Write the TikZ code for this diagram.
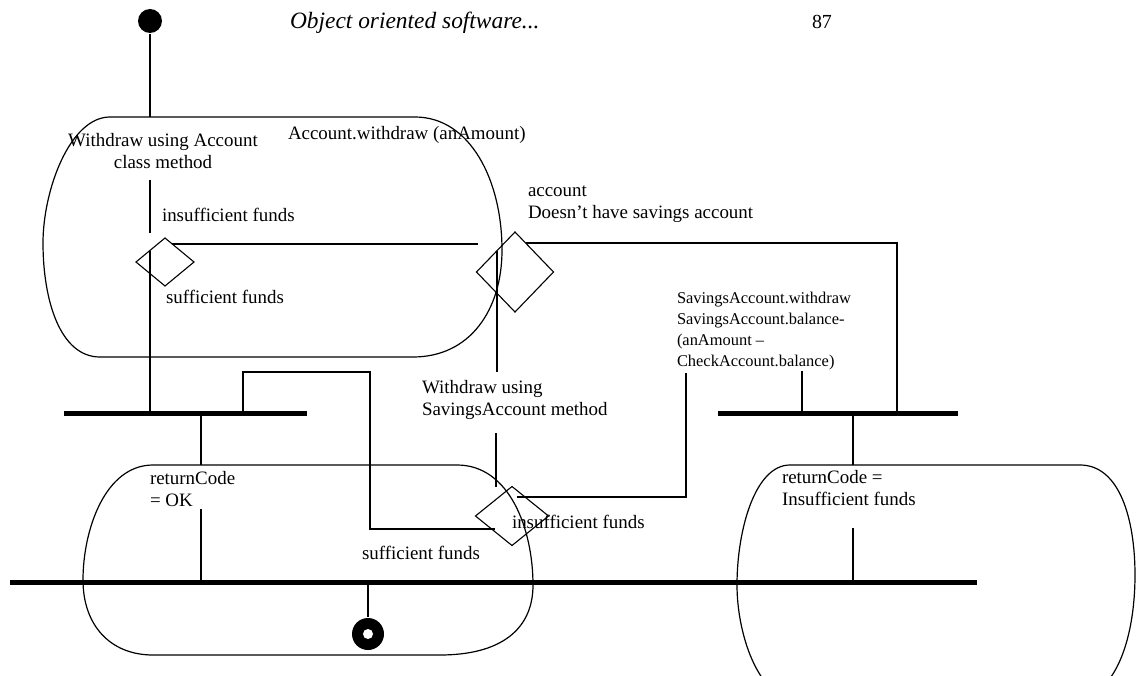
\documentclass[tikz,border=0pt]{standalone}
\usepackage{fontspec}
\setmainfont{Liberation Serif}
\usetikzlibrary{shapes.geometric}
\newcommand\lblsize{\fontsize{19}{22.5}\selectfont}
\newcommand\notesize{\fontsize{16.5}{21}\selectfont}

\begin{document}
\begin{tikzpicture}[x=1bp,y=-1bp, line width=1.1bp,
  bar/.style={fill=black, draw=none, inner sep=0, outer sep=0, minimum height=5bp},
  choice/.style={diamond, draw, inner sep=0, outer sep=0},
  lbl/.style={inner sep=0, outer sep=0, anchor=base west, align=left, font=\lblsize},
  note/.style={lbl, font=\notesize},
  statebox/.style={draw, line width=1.2bp},
]
\useasboundingbox (0,0) rectangle (1136,676);
\fill[white] (0,0) rectangle (1136,676);
\clip (0,0) rectangle (1136,676);

% running head
\node[lbl, font=\fontsize{23.5}{28}\selectfont\itshape] (title) at (290,29) {Object oriented software...};
\node[lbl, font=\fontsize{20}{24}\selectfont] (page) at (812,29) {87};

% action states
\draw[statebox] (110,117) -- (415,117)
  .. controls (470,117) and (502,180) .. (502,250)
  .. controls (502,310) and (470,357) .. (413,357) -- (100,357)
  .. controls (60,357) and (43,300) .. (43,243)
  .. controls (43,190) and (70,117) .. (110,117) -- cycle;
\draw[statebox] (153,465) -- (457,465)
  .. controls (510,465) and (533,530) .. (533,585)
  .. controls (533,630) and (500,655) .. (440,655) -- (153,655)
  .. controls (110,655) and (83,625) .. (83,580)
  .. controls (83,530) and (105,465) .. (153,465) -- cycle;
\draw[statebox] (790,465) -- (1080,465)
  .. controls (1120,465) and (1135,520) .. (1135,575)
  .. controls (1135,630) and (1120,690) .. (1080,700) -- (790,700)
  .. controls (755,690) and (737,630) .. (737,585)
  .. controls (737,530) and (755,465) .. (790,465) -- cycle;

% initial and final states
\node[circle, fill=black, inner sep=0, minimum size=24bp] (start) at (150,21) {};
\node[circle, fill=black, inner sep=0, minimum size=32bp] (final) at (368,634) {};
\fill[white] (final.center) circle (5);

% decisions
\node[choice, minimum width=58bp, minimum height=48bp] (g1) at (165,262) {};
\node[choice, minimum width=77bp, minimum height=80bp] (g2) at (515,272) {};
\node[choice, minimum width=73bp, minimum height=59bp] (g3) at (512,516) {};

% synchronisation bars
\node[bar, minimum width=243bp] (f1) at (185.5,413) {};
\node[bar, minimum width=240bp] (f2) at (838,413) {};
\node[bar, minimum width=967bp] (f3) at (493.5,582) {};

% transitions
\coordinate (a1top) at (150,117);
\draw (start) -- (a1top);
\coordinate (a1exit) at (150,180);
\coordinate (g1entry) at (150,233);
\draw (a1exit) -- (g1entry);
\coordinate (g1low) at (150,251);
\draw (g1low) -- (g1low |- f1.center);
\coordinate (g1up) at (172,244);
\coordinate (g2stub) at (478,244);
\draw (g1up) -- (g2stub);

\coordinate (g2right) at (526,243);
\coordinate (j2corner) at (897,243);
\draw (g2right) -- (j2corner) -- (j2corner |- f2.center);
\coordinate (g2low) at (497,251);
\coordinate (a2top) at (497,372);
\draw (g2low) -- (a2top);

\coordinate (a2exit) at (496,433);
\coordinate (g3top) at (496,487);
\draw (a2exit) -- (g3top);
\coordinate (g3ne) at (517,497);
\coordinate (a3bend) at (686,497);
\coordinate (a3bottom) at (686,373);
\draw (g3ne) -- (a3bend) -- (a3bottom);
\coordinate (g3sw) at (495,529);
\coordinate (loopA) at (370,529);
\coordinate (loopB) at (370,372);
\coordinate (loopC) at (243,372);
\draw (g3sw) -- (loopA) -- (loopB) -- (loopC) -- (loopC |- f1.center);

\coordinate (a4top) at (201,465);
\draw (a4top |- f1.center) -- (a4top);
\coordinate (a4exit) at (201,509);
\draw (a4exit) -- (a4exit |- f3.center);
\draw (f3.center -| final) -- (final);

\coordinate (a3exit) at (802,371);
\draw (a3exit) -- (a3exit |- f2.center);
\coordinate (a5top) at (853,465);
\draw (a5top |- f2.center) -- (a5top);
\coordinate (a5exit) at (853,528);
\draw (a5exit) -- (a5exit |- f3.center);

% labels (multi-line nodes sit on the baseline of their last line)
\node[lbl, anchor=base, align=center] (t1) at (163,168.5) {Withdraw using Account\\class method};
\node[lbl] (t2) at (288,140) {Account.withdraw (anAmount)};
\node[lbl] (t3) at (162,222) {insufficient funds};
\node[lbl] (t4) at (166,303) {sufficient funds};
\node[lbl] (t5) at (528,218.5) {account\\Doesn’t have savings account};
\node[note] (t6) at (677,366) {SavingsAccount.withdraw\\SavingsAccount.balance-\\(anAmount --\\CheckAccount.balance)};
\node[lbl] (t7) at (422,415.5) {Withdraw using\\SavingsAccount method};
\node[lbl] (t8) at (150,506.5) {returnCode\\= OK};
\node[lbl] (t9) at (512,528) {insufficient funds};
\node[lbl] (t10) at (362,559) {sufficient funds};
\node[lbl] (t11) at (782,505.5) {returnCode =\\Insufficient funds};
\end{tikzpicture}
\end{document}
